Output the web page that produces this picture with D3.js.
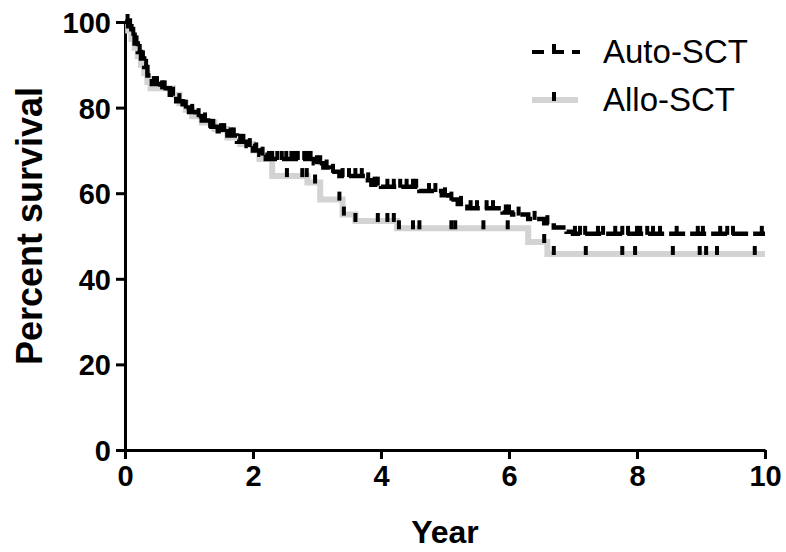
<!DOCTYPE html>
<html>
<head>
<meta charset="utf-8">
<script src="https://cdn.jsdelivr.net/npm/d3@7"></script>
<style>
  body { margin: 0; background: #fff; }
  svg { display: block; font-family: "Liberation Sans", Arial, sans-serif; }
  .axis path, .axis line { stroke: #000; stroke-width: 3px; }
  .axis text { font-size: 29px; font-weight: bold; fill: #000; }
</style>
</head>
<body>
<svg width="786" height="552"></svg>
<script>

// Kaplan-Meier steps
const autoTimes  = [0, 0.05, 0.1, 0.15, 0.2, 0.25, 0.3, 0.35, 0.42, 0.55, 0.7, 0.8, 0.9, 1.0, 1.1, 1.2, 1.3, 1.45, 1.6, 1.75, 1.9, 2.0, 2.1, 2.2,
                    2.95, 3.1, 3.2, 3.35, 3.75, 3.85, 4.0, 4.6, 4.95, 5.05, 5.2, 5.35, 5.9, 6.05, 6.3, 6.55, 6.7, 6.9, 7.0, 10];
const autoSurv   = [100, 99, 97, 95, 93, 91.5, 89.5, 87.5, 85.5, 84.5, 83, 81.5, 80, 79, 78, 77, 75.5, 74.5, 73.5, 72, 71, 70, 69, 68,
                    67, 66, 65, 64, 63, 62, 61.5, 60.5, 59.5, 58.5, 57.5, 56.5, 55.5, 55, 54, 53, 52, 51, 50.5, 50.5];
const autoCensor = [0.04, 0.08, 0.13, 0.18, 0.23, 0.28, 0.33, 0.45, 0.5, 0.58, 0.62, 0.75, 0.85, 0.95, 1.05, 1.15, 1.25, 1.33, 1.38,
                    1.5, 1.55, 1.65, 1.7, 1.8, 1.85, 1.95, 2.05, 2.15, 2.25, 2.3, 2.38, 2.45, 2.52, 2.6, 2.65, 2.7, 2.8, 2.85, 2.9,
                    3.0, 3.05, 3.15, 3.25, 3.4, 3.5, 3.6, 3.7, 3.8, 3.9, 3.95, 4.1, 4.2, 4.3, 4.4, 4.5, 4.55, 4.75, 4.85, 5.0, 5.1,
                    5.25, 5.4, 5.5, 5.65, 5.75, 5.95, 6.0, 6.15, 6.4, 6.6,
                    7.03, 7.11, 7.19, 7.39, 7.47, 7.66, 7.77, 7.86, 8.0, 8.05, 8.16, 8.25, 8.36, 8.62, 8.95, 9.03, 9.3, 9.41, 9.5, 9.95];

const alloTimes  = [0, 0.05, 0.1, 0.15, 0.2, 0.25, 0.3, 0.35, 0.4, 0.75, 0.85, 0.95, 1.05, 1.2, 1.4, 1.6, 1.8, 2.0, 2.1, 2.3,
                    2.85, 3.05, 3.4, 3.6, 4.25, 6.3, 6.6, 10];
const alloSurv   = [100, 98, 96, 94, 92, 90, 88, 86, 84.5, 83, 81, 79.5, 78, 76.5, 75, 73, 71.5, 70, 68, 64,
                    62.5, 58.5, 55, 53.5, 51.8, 48.6, 45.8, 45.8];
const alloCensor = [2.53, 2.77, 2.84, 2.97, 3.35, 3.42, 3.6, 3.95, 4.1, 4.2, 4.28, 4.5, 4.6, 5.1, 5.16, 5.6, 5.98,
                    6.55, 6.7, 7.2, 7.77, 7.97, 8.56, 8.98, 9.08, 9.25, 9.84];

const xTicks = [0, 2, 4, 6, 8, 10];
const yTicks = [0, 20, 40, 60, 80, 100];
const seriesNames = ['Auto-SCT', 'Allo-SCT'];

const svg = d3.select('svg');

const x = d3.scaleLinear().domain([0, 10]).range([125, 765]);
const y = d3.scaleLinear().domain([0, 100]).range([450, 22]);

function steps(times, surv) {
  return times.map((t, i) => [t, surv[i]]);
}

function survAt(times, surv, t) {
  const i = d3.bisectRight(times, t) - 1;
  return surv[Math.max(0, i)];
}

const line = d3.line()
  .x(d => x(d[0]))
  .y(d => y(d[1]))
  .curve(d3.curveStepAfter);

// axes
svg.append('g')
  .attr('class', 'axis')
  .attr('transform', 'translate(125,0)')
  .call(d3.axisLeft(y).tickValues(yTicks).tickSize(9).tickPadding(5).tickSizeOuter(0))
  .selectAll('text').attr('dy', '0.36em');

svg.append('g')
  .attr('class', 'axis')
  .attr('transform', 'translate(0,450)')
  .call(d3.axisBottom(x).tickValues(xTicks).tickSize(9).tickPadding(6).tickSizeOuter(0));

// Allo-SCT (grey) under Auto-SCT (black)
svg.append('path')
  .attr('d', line(steps(alloTimes, alloSurv)))
  .attr('fill', 'none')
  .attr('stroke', '#d3d3d3')
  .attr('stroke-width', 6);

svg.selectAll('.allo-censor').data(alloCensor)
  .enter().append('rect')
    .attr('class', 'allo-censor')
    .attr('x', d => x(d) - 2)
    .attr('y', d => y(survAt(alloTimes, alloSurv, d)) - 8)
    .attr('width', 4)
    .attr('height', 9)
    .attr('fill', '#000');

svg.append('path')
  .attr('d', line(steps(autoTimes, autoSurv)))
  .attr('fill', 'none')
  .attr('stroke', '#000')
  .attr('stroke-width', 4.5)
  .attr('stroke-dasharray', '16,5');

svg.selectAll('.auto-censor').data(autoCensor)
  .enter().append('rect')
    .attr('class', 'auto-censor')
    .attr('x', d => x(d) - 2)
    .attr('y', d => y(survAt(autoTimes, autoSurv, d)) - 8)
    .attr('width', 4)
    .attr('height', 9)
    .attr('fill', '#000');

// axis titles
svg.append('text')
  .attr('x', 445)
  .attr('y', 543)
  .attr('text-anchor', 'middle')
  .attr('font-size', 32)
  .attr('font-weight', 'bold')
  .text('Year');

svg.append('text')
  .attr('transform', 'translate(42,226) rotate(-90)')
  .attr('text-anchor', 'middle')
  .attr('font-size', 36)
  .attr('font-weight', 'bold')
  .text('Percent survival');

// legend
const legend = svg.append('g');
const legendY = [52, 100];

legend.append('line')
  .attr('x1', 532).attr('x2', 580)
  .attr('y1', legendY[0]).attr('y2', legendY[0])
  .attr('stroke', '#000').attr('stroke-width', 4)
  .attr('stroke-dasharray', '12,8');
legend.append('rect')
  .attr('x', 552).attr('y', legendY[0] - 8).attr('width', 4).attr('height', 9).attr('fill', '#000');

legend.append('line')
  .attr('x1', 532).attr('x2', 578)
  .attr('y1', legendY[1]).attr('y2', legendY[1])
  .attr('stroke', '#d3d3d3').attr('stroke-width', 6);
legend.append('rect')
  .attr('x', 552).attr('y', legendY[1] - 8).attr('width', 4).attr('height', 9).attr('fill', '#000');

legend.selectAll('.label').data(seriesNames)
  .enter().append('text')
    .attr('class', 'label')
    .attr('x', 603)
    .attr('y', (d, i) => legendY[i] + 11)
    .attr('font-size', 33)
    .text(d => d);

</script>
</body>
</html>
